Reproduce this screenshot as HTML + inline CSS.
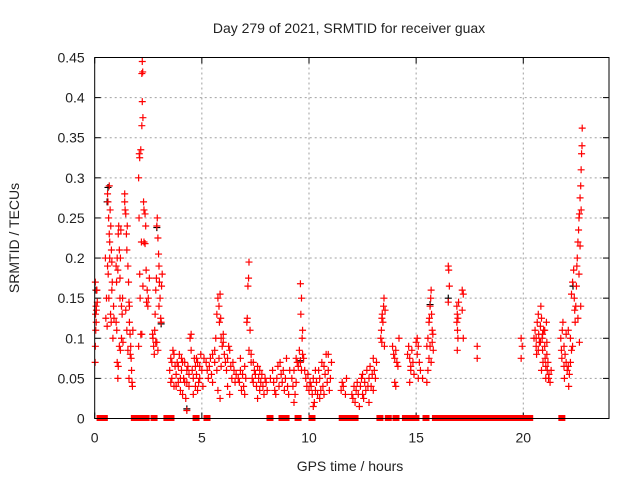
<!DOCTYPE html>
<html><head><meta charset="utf-8"><style>
html,body{margin:0;padding:0;background:#fff;}
svg{display:block;font-family:"Liberation Sans",sans-serif;}
</style></head><body>
<svg id="chart" width="640" height="480" viewBox="0 0 640 480" xmlns="http://www.w3.org/2000/svg">
<rect width="640" height="480" fill="#fff"/>
<g id="grid"></g>
<g id="axes"></g>
<g id="black-series"></g>
<g id="red-series"></g>
<rect x="94.7" y="57.5" width="514.3" height="361" fill="none" stroke="#000" stroke-width="1"/>
<text x="349" y="33" font-size="14" text-anchor="middle" fill="#222">Day 279 of 2021, SRMTID for receiver guax</text>
<text x="350" y="471" font-size="14" text-anchor="middle" fill="#222">GPS time / hours</text>
<text transform="translate(19,238) rotate(-90)" font-size="14" text-anchor="middle" fill="#222">SRMTID / TECUs</text>
</svg>
<script>
const xTicks = [0,5,10,15,20];
const yTicks = [0,0.05,0.1,0.15,0.2,0.25,0.3,0.35,0.4,0.45];
const yTickLabels = ["0","0.05","0.1","0.15","0.2","0.25","0.3","0.35","0.4","0.45"];
const redPoints = [
[0.02,0.07],[0.03,0.09],[0.05,0.11],[0.04,0.13],[0.06,0.14],[0.08,0.135],[0.1,0.16],[0.03,0.17],[0.07,0.12],[0.12,0.145],[0.09,0.16],
[0.5,0.2],[0.52,0.125],[0.55,0.15],[0.6,0.28],[0.62,0.27],[0.65,0.25],[0.68,0.23],[0.7,0.22],[0.72,0.26],[0.6,0.19],[0.63,0.18],[0.66,0.15],[0.7,0.2],[0.75,0.24],[0.78,0.21],[0.8,0.195],[0.82,0.17],[0.74,0.13],[0.77,0.12],[0.58,0.115],[0.85,0.1],[0.88,0.14],[0.9,0.125],[0.68,0.29],[0.8,0.16],
[1.0,0.19],[1.02,0.17],[1.05,0.2],[1.08,0.185],[1.1,0.23],[1.12,0.24],[1.15,0.21],[1.18,0.175],[1.2,0.2],[1.22,0.235],[1.25,0.14],[1.28,0.13],[1.0,0.12],[1.03,0.11],[1.05,0.07],[1.08,0.05],[1.1,0.065],[1.15,0.09],[1.2,0.085],[1.25,0.1],[1.3,0.15],[1.32,0.095],[1.18,0.15],
[1.4,0.28],[1.42,0.26],[1.45,0.255],[1.48,0.23],[1.5,0.21],[1.52,0.24],[1.55,0.19],[1.58,0.17],[1.6,0.145],[1.62,0.12],[1.65,0.105],[1.68,0.09],[1.7,0.075],[1.72,0.06],[1.74,0.045],[1.76,0.04],[1.5,0.11],[1.55,0.085],[1.45,0.135],[1.62,0.14],[1.78,0.11],[1.6,0.05],[1.66,0.08],[1.4,0.27],
[2.05,0.3],[2.07,0.25],[2.1,0.18],[2.12,0.15],[2.08,0.33],[2.1,0.325],[2.15,0.335],[2.2,0.43],[2.22,0.445],[2.24,0.432],[2.2,0.365],[2.25,0.375],[2.22,0.395],[2.28,0.27],[2.3,0.26],[2.18,0.22],[2.35,0.255],[2.38,0.24],[2.3,0.22],[2.15,0.105],[2.2,0.105],[2.05,0.09],[2.25,0.165],[2.4,0.185],[2.45,0.16],[2.5,0.15],[2.48,0.14],[2.55,0.175],[2.42,0.145],[2.35,0.218],
[2.7,0.105],[2.72,0.1],[2.75,0.09],[2.78,0.08],[2.8,0.11],[2.82,0.13],[2.85,0.16],[2.88,0.175],[2.9,0.24],[2.92,0.25],[2.95,0.225],[2.98,0.205],[3.0,0.19],[3.02,0.17],[3.05,0.15],[3.08,0.125],[3.1,0.12],[2.9,0.095],[2.95,0.085],[3.0,0.14],[3.12,0.165],[3.15,0.18],[2.85,0.095],
[3.5,0.06],[3.55,0.075],[3.6,0.05],[3.65,0.085],[3.7,0.04],[3.75,0.065],[3.8,0.055],[3.85,0.07],[3.9,0.045],[3.95,0.08],[4.0,0.035],[4.05,0.06],[4.1,0.03],[4.15,0.05],[4.2,0.07],[4.25,0.025],[4.3,0.045],[4.35,0.065],[4.4,0.04],[4.45,0.1],[4.5,0.105],[4.5,0.085],[4.55,0.06],[4.6,0.05],[4.65,0.075],[4.7,0.04],[4.75,0.055],[4.8,0.07],[4.85,0.045],[4.9,0.065],[4.95,0.08],[5.0,0.06],[5.05,0.04],[5.1,0.075],[3.6,0.07],[3.7,0.08],[3.8,0.04],[3.9,0.065],[4.0,0.05],[4.1,0.07],[4.2,0.045],[4.3,0.06],[4.4,0.055],[4.6,0.03],[4.7,0.065],[4.8,0.035],[4.9,0.05],[4.3,0.01],[4.05,0.075],[3.55,0.045],[4.75,0.075],
[5.2,0.07],[5.25,0.06],[5.3,0.05],[5.35,0.065],[5.4,0.075],[5.45,0.055],[5.5,0.045],[5.5,0.08],[5.6,0.07],[5.65,0.1],[5.7,0.13],[5.75,0.15],[5.8,0.14],[5.82,0.12],[5.85,0.155],[5.88,0.125],[5.9,0.1],[5.95,0.09],[6.0,0.105],[6.05,0.08],[6.1,0.07],[6.15,0.06],[6.2,0.075],[6.25,0.09],[6.3,0.085],[6.35,0.065],[6.4,0.05],[6.45,0.07],[6.5,0.06],[6.55,0.045],[6.6,0.055],[5.7,0.06],[5.8,0.075],[5.9,0.065],[6.0,0.095],[5.75,0.035],[5.85,0.025],[5.6,0.085],[6.2,0.04],[6.3,0.03],
[6.7,0.05],[6.75,0.045],[6.8,0.06],[6.85,0.035],[6.9,0.055],[6.95,0.04],[7.0,0.065],[7.05,0.05],[7.1,0.12],[7.12,0.125],[7.15,0.165],[7.18,0.175],[7.2,0.195],[7.25,0.11],[7.3,0.07],[7.35,0.05],[7.4,0.045],[7.45,0.06],[7.5,0.055],[7.55,0.04],[7.6,0.065],[7.65,0.05],[7.7,0.035],[7.75,0.045],[7.8,0.055],[7.85,0.04],[7.9,0.03],[7.95,0.05],[8.0,0.045],[8.05,0.035],[7.2,0.085],[7.3,0.08],[7.4,0.07],[6.8,0.075],[7.0,0.03],[7.6,0.025],[7.7,0.06],
[8.2,0.05],[8.3,0.06],[8.35,0.045],[8.4,0.035],[8.5,0.05],[8.55,0.065],[8.6,0.04],[8.7,0.055],[8.75,0.045],[8.8,0.06],[8.85,0.035],[8.9,0.05],[9.0,0.04],[9.05,0.03],[8.45,0.03],[8.65,0.07],[8.95,0.075],
[9.2,0.05],[9.25,0.04],[9.3,0.06],[9.35,0.03],[9.4,0.045],[9.45,0.07],[9.5,0.065],[9.55,0.085],[9.6,0.07],[9.65,0.06],[9.7,0.08],[9.75,0.075],[9.8,0.06],[9.85,0.05],[9.9,0.04],[9.95,0.055],[10.0,0.035],[10.05,0.045],[9.6,0.168],[9.65,0.15],[9.62,0.13],[9.7,0.11],[9.68,0.1],[9.3,0.02],[9.4,0.075],[9.1,0.06],
[10.1,0.04],[10.15,0.03],[10.2,0.05],[10.25,0.02],[10.3,0.035],[10.35,0.045],[10.4,0.03],[10.45,0.06],[10.5,0.05],[10.55,0.035],[10.6,0.07],[10.65,0.04],[10.7,0.065],[10.75,0.055],[10.8,0.08],[10.85,0.045],[10.9,0.06],[10.95,0.035],[11.0,0.05],[11.05,0.07],[10.2,0.015],[10.3,0.06],[10.5,0.025],[10.7,0.03],[10.9,0.08],
[11.5,0.035],[11.55,0.045],[11.6,0.04],[11.7,0.03],[11.75,0.05],
[12.0,0.03],[12.05,0.025],[12.1,0.04],[12.15,0.02],[12.2,0.035],[12.25,0.045],[12.3,0.03],[12.35,0.015],[12.4,0.04],[12.45,0.05],[12.5,0.03],[12.55,0.025],[12.6,0.045],[12.65,0.035],[12.7,0.06],[12.75,0.04],[12.8,0.05],[12.85,0.065],[12.9,0.04],[12.95,0.055],[13.0,0.035],[13.05,0.06],[13.1,0.05],[13.15,0.07],[12.5,0.055],[12.8,0.02],[13.0,0.075],
[13.35,0.1],[13.38,0.11],[13.4,0.125],[13.42,0.13],[13.45,0.12],[13.48,0.14],[13.5,0.15],[13.52,0.09],[13.4,0.095],[13.55,0.135],
[13.9,0.09],[13.95,0.08],[14.0,0.075],[14.05,0.085],[14.1,0.07],[14.0,0.045],[14.05,0.04],[14.2,0.1],[14.15,0.065],
[14.6,0.08],[14.65,0.09],[14.7,0.075],[14.75,0.065],[14.8,0.085],[14.85,0.07],[14.9,0.055],[14.7,0.045],[14.75,0.06],[15.0,0.095],[15.05,0.08],[15.1,0.09],[15.15,0.07],[15.2,0.06],[15.05,0.1],[15.1,0.05],[15.3,0.05],
[15.5,0.09],[15.55,0.1],[15.6,0.12],[15.62,0.125],[15.65,0.14],[15.68,0.15],[15.7,0.16],[15.72,0.13],[15.75,0.11],[15.78,0.105],[15.8,0.085],[15.6,0.075],[15.7,0.07],[15.55,0.06],[15.65,0.09],[15.5,0.045],[15.75,0.095],
[16.5,0.19],[16.52,0.185],[16.55,0.165],[16.5,0.145],[16.9,0.14],[16.92,0.13],[16.95,0.125],[16.9,0.12],[16.93,0.11],[16.95,0.1],[16.92,0.085],[16.98,0.145],[17.15,0.16],[17.2,0.155],[17.15,0.135],[17.2,0.1],
[17.85,0.09],[17.85,0.075],[19.9,0.1],[19.95,0.09],[19.9,0.075],
[20.5,0.1],[20.55,0.11],[20.6,0.09],[20.62,0.08],[20.65,0.12],[20.7,0.13],[20.72,0.105],[20.75,0.095],[20.8,0.115],[20.82,0.14],[20.85,0.125],[20.88,0.1],[20.9,0.085],[20.92,0.07],[20.95,0.11],[21.0,0.09],[21.02,0.075],[21.05,0.065],[21.08,0.12],[21.1,0.08],[21.12,0.06],[21.15,0.07],[21.18,0.05],[21.2,0.055],[21.25,0.045],[21.3,0.06],[20.6,0.1],[20.7,0.085],[20.8,0.095],[20.9,0.105],[21.0,0.11],[21.1,0.095],[20.85,0.06],[21.05,0.05],
[21.75,0.1],[21.78,0.085],[21.8,0.075],[21.82,0.11],[21.85,0.12],[21.9,0.09],[21.92,0.05],[21.95,0.08],[22.0,0.07],[22.05,0.06],[22.1,0.065],[22.12,0.04],[22.15,0.055],[22.2,0.07],[22.25,0.085],[22.3,0.09],[22.0,0.105],[22.1,0.11],[22.2,0.1],[21.9,0.065],
[22.25,0.155],[22.3,0.17],[22.35,0.185],[22.38,0.15],[22.4,0.135],[22.42,0.12],[22.45,0.14],[22.48,0.165],[22.5,0.19],[22.52,0.2],[22.55,0.22],[22.58,0.235],[22.6,0.25],[22.62,0.255],[22.65,0.275],[22.68,0.29],[22.7,0.31],[22.72,0.33],[22.74,0.34],[22.75,0.362],[22.6,0.18],[22.65,0.215],[22.7,0.26],[22.55,0.125],[22.62,0.095],[22.68,0.14]
];
const zeroHours = [0.25,0.35,0.45,1.85,1.95,2.05,2.15,2.4,2.77,3.37,3.47,3.56,4.73,5.24,8.18,8.74,8.84,8.93,9.49,10.14,11.55,11.65,11.75,11.85,12.0,12.15,13.31,13.7,14.06,14.5,14.6,14.7,14.99,15.46,15.9,16.0,16.1,16.2,16.3,16.4,16.5,16.6,16.72,16.86,17.0,17.1,17.2,17.3,17.4,17.5,17.6,17.7,17.8,17.9,18.0,18.1,18.2,18.3,18.4,18.5,18.6,18.7,18.8,18.9,19.0,19.1,19.2,19.3,19.4,19.5,19.6,19.7,19.8,19.9,20.0,20.1,20.2,20.3,21.8];
const blackPoints = [[0.62,0.288],[0.58,0.27],[4.3,0.012],[16.5,0.15],[22.32,0.165],[3.1,0.118],[0.06,0.16],[2.9,0.238],[9.6,0.072],[15.65,0.142]];

const X0=94.7, X1=609, Y0=418.5, Y1=57.5, XMAX=24, YMAX=0.45;
const xScale = h => X0 + (h/XMAX)*(X1-X0);
const yScale = v => Y0 - (v/YMAX)*(Y0-Y1);
const NS="http://www.w3.org/2000/svg";
function mk(tag, attrs, parent){const e=document.createElementNS(NS,tag);for(const k in attrs)e.setAttribute(k,attrs[k]);parent.appendChild(e);return e;}
const grid=document.getElementById('grid'), axes=document.getElementById('axes');
yTicks.forEach((t,i)=>{
  const y=yScale(t);
  if(i>0&&i<yTicks.length-1){const g=mk('line',{x1:X0,x2:X1,y1:y,y2:y,stroke:'#a0a0a0','stroke-dasharray':'2,3','stroke-width':1},grid);
  
  }
  mk('line',{x1:X0,x2:X0+6,y1:y,y2:y,stroke:'#000'},axes);
  mk('line',{x1:X1-6,x2:X1,y1:y,y2:y,stroke:'#000'},axes);
  const tx=mk('text',{x:X0-10,y:y+5,'font-size':14,'text-anchor':'end',fill:'#222'},axes);
  tx.textContent=yTickLabels[i];
  
  
});
xTicks.forEach(t=>{
  const x=xScale(t);
  if(t>0){const g=mk('line',{x1:x,x2:x,y1:Y1,y2:Y0,stroke:'#a0a0a0','stroke-dasharray':'2,3','stroke-width':1},grid);
  
  }
  mk('line',{x1:x,x2:x,y1:Y0,y2:Y0-6,stroke:'#000'},axes);
  mk('line',{x1:x,x2:x,y1:Y1,y2:Y1+6,stroke:'#000'},axes);
  const tx=mk('text',{x:x,y:Y0+24,'font-size':14,'text-anchor':'middle',fill:'#222'},axes);
  tx.textContent=String(t);
  
  
});
function plus(g,h,v,color){
  const x=xScale(h), y=yScale(v);
  const p=mk('path',{d:`M${x-3.5},${y}H${x+3.5}M${x},${y-3.5}V${y+3.5}`,stroke:color,'stroke-width':1.2,fill:'none'},g);
  
  
}
const bg=document.getElementById('black-series'), rg=document.getElementById('red-series');
blackPoints.forEach(p=>plus(bg,p[0],p[1],'#000'));
redPoints.forEach(p=>plus(rg,p[0],p[1],'#ff0000'));
zeroHours.forEach(h=>{
  const x=xScale(h), y=yScale(0);
  const r=mk('rect',{x:x-3.5,y:y-3.5,width:7,height:6,fill:'#ff0000'},rg);
  
  
});
</script>
</body></html>
